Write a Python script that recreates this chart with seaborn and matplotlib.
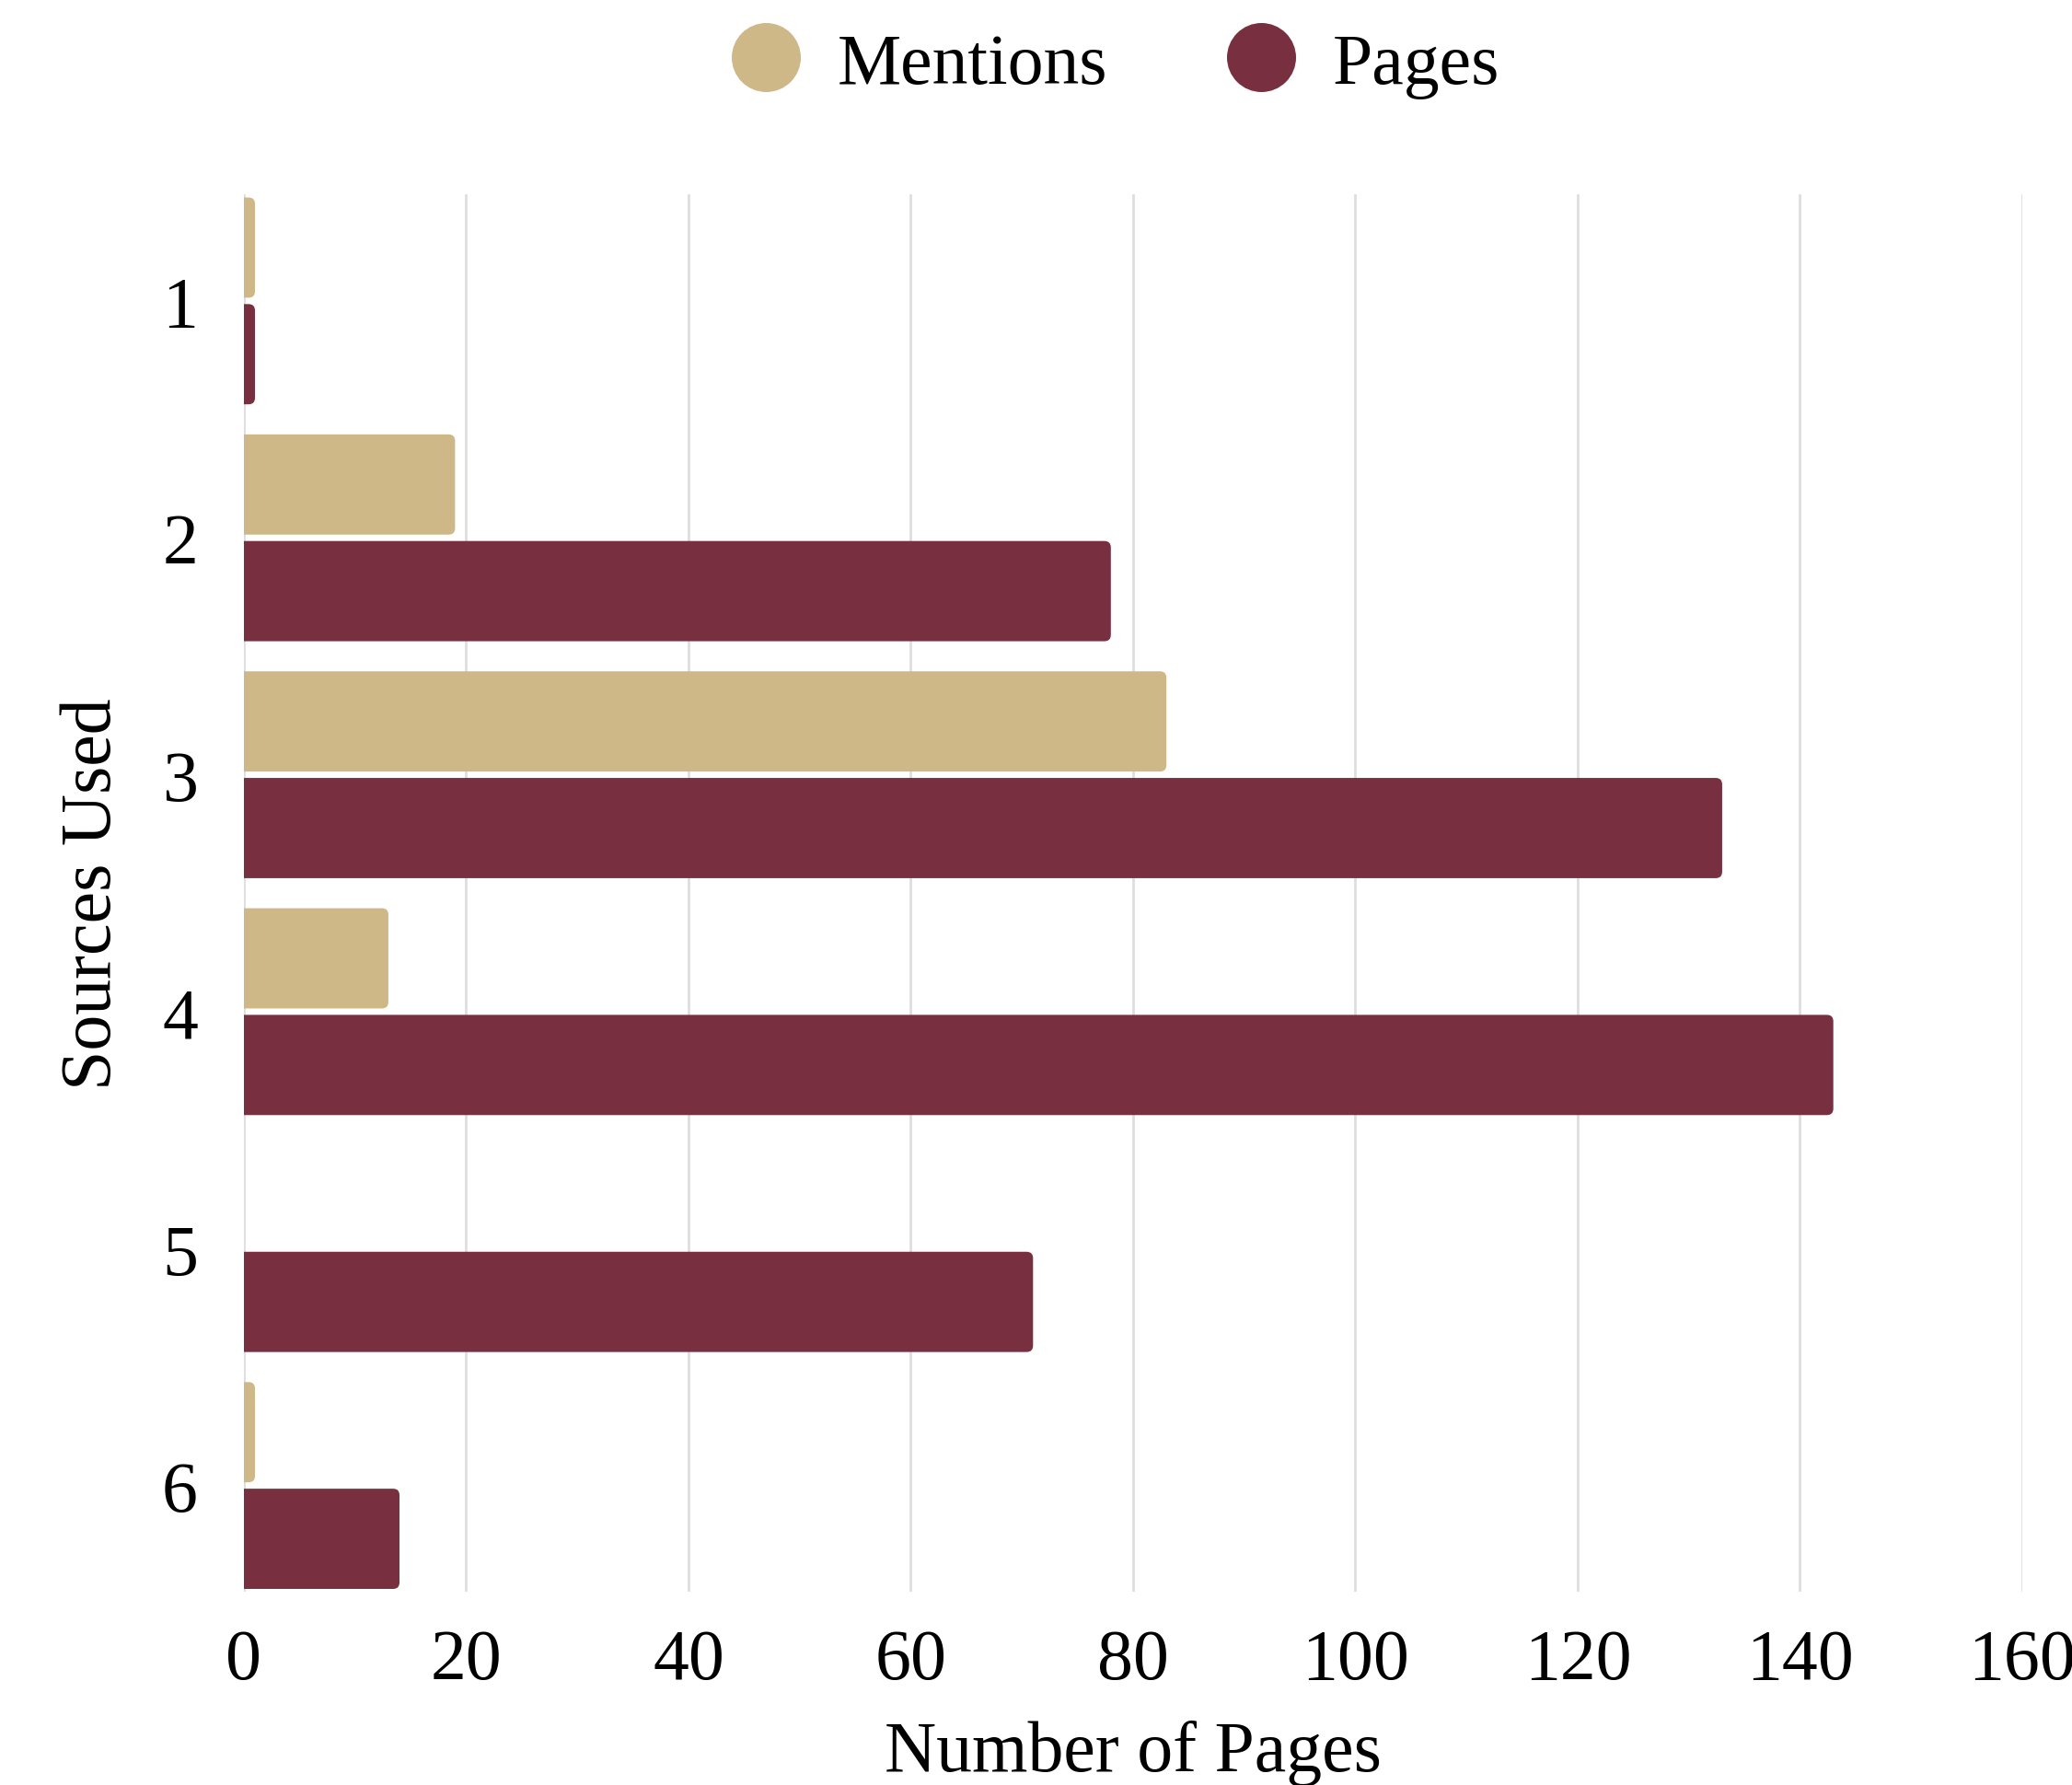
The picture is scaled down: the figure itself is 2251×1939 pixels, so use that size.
import pandas as pd
import matplotlib.pyplot as plt
import seaborn as sns
from matplotlib.patches import FancyBboxPatch
from matplotlib.lines import Line2D

# Data
sources = ['1', '2', '3', '4', '5', '6']
mentions = [1, 19, 83, 13, 0, 1]
pages = [1, 78, 133, 143, 71, 14]

gold = '#CFB887'
garnet = '#782F40'

df = pd.DataFrame({
    'Sources Used': sources * 2,
    'value': mentions + pages,
    'series': ['Mentions'] * len(sources) + ['Pages'] * len(sources),
})

sns.set_style('white')
plt.rcParams['font.family'] = ['Liberation Serif', 'DejaVu Serif']
plt.rcParams['text.color'] = 'black'
plt.rcParams['axes.labelcolor'] = 'black'
plt.rcParams['xtick.color'] = 'black'
plt.rcParams['ytick.color'] = 'black'

fig, ax = plt.subplots(figsize=(11.255, 9.7), dpi=200)
fig.subplots_adjust(left=0.1177, right=0.976, top=0.8907, bottom=0.108)

sns.barplot(data=df, y='Sources Used', x='value', hue='series', orient='h',
            palette=[gold, garnet], saturation=1, width=0.9, gap=0.06,
            linewidth=0, legend=False, ax=ax)

ax.set_xlim(0, 160)
ax.set_ylim(5.45, -0.45)
ax.set_xticks(range(0, 161, 20))

# swap the plain bars for ones with rounded right ends
fig.canvas.draw()
bbox = ax.get_window_extent()
x_per_px = 160 / bbox.width
y_per_px = 5.9 / bbox.height
rs = 7 * x_per_px
aspect = y_per_px / x_per_px
for p in list(ax.patches):
    x, y, w, h = p.get_x(), p.get_y(), p.get_width(), p.get_height()
    fc = p.get_facecolor()
    p.remove()
    if w <= 0:
        continue
    ax.add_patch(FancyBboxPatch((x - rs, y), w + rs, h,
                                boxstyle=f'round,pad=0,rounding_size={rs}',
                                mutation_aspect=aspect, facecolor=fc,
                                linewidth=0, zorder=2))

ax.grid(axis='x', color='#dedede', linewidth=1.0)
ax.set_axisbelow(True)
sns.despine(ax=ax, left=True, bottom=True)
ax.tick_params(axis='both', length=0, labelsize=28)
ax.tick_params(axis='y', pad=18)
ax.tick_params(axis='x', pad=14)
ax.set_xlabel('Number of Pages', fontsize=28, labelpad=10)
ax.set_ylabel('Sources Used', fontsize=28, labelpad=14)

handles = [Line2D([], [], marker='o', linestyle='', markersize=27,
                  markerfacecolor=c, markeredgewidth=0) for c in (gold, garnet)]
fig.legend(handles, ['Mentions', 'Pages'], loc='center',
           bbox_to_anchor=(0.538, 0.963), ncol=2, frameon=False,
           fontsize=28, handlelength=1.0, handletextpad=0.5,
           columnspacing=1.65)

plt.savefig('out.png', dpi=200)
